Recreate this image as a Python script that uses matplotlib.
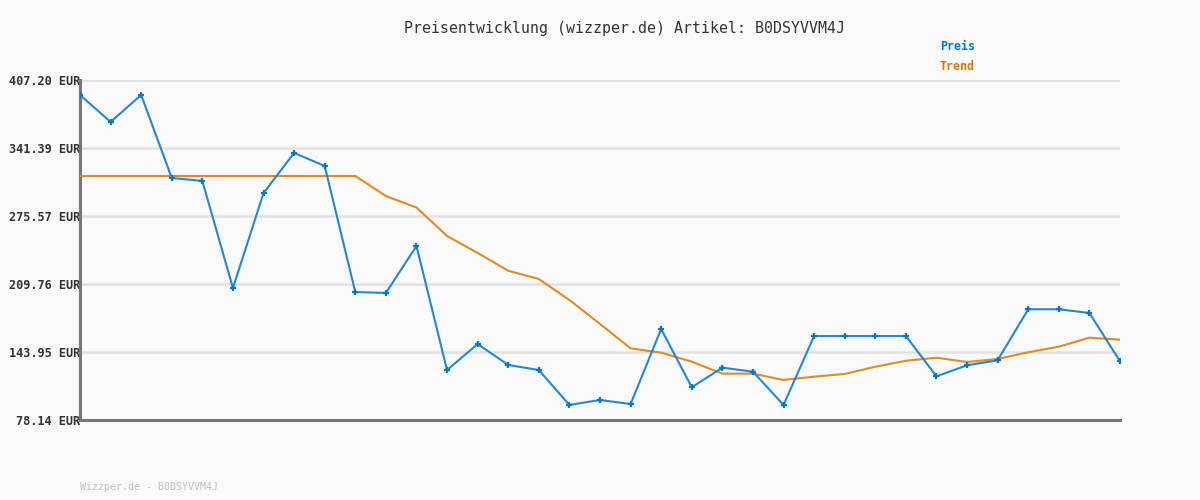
import matplotlib.pyplot as plt
import numpy as np

# Preis (blue) and Trend (orange), one value per sampling point
preis = [392.7, 366.6, 392.7, 312.4, 309.5, 205.9, 297.8, 336.6, 324.0, 202.0,
         201.1, 246.5, 126.5, 151.7, 131.4, 126.5, 92.7, 97.5, 93.6, 166.2,
         109.8, 128.8, 124.9, 92.7, 159.4, 159.4, 159.4, 159.4, 120.4, 131.1,
         135.9, 185.3, 185.3, 181.7, 135.0]
trend = [314.3, 314.3, 314.3, 314.3, 314.3, 314.3, 314.3, 314.3, 314.3, 314.3,
         294.9, 283.8, 256.2, 239.8, 222.6, 214.6, 194.3, 171.1, 147.5, 143.3,
         134.6, 123.0, 123.0, 116.9, 120.1, 122.7, 129.7, 135.5, 138.4, 134.3,
         137.2, 143.7, 149.1, 157.8, 155.9]
yticks = [78.14, 143.95, 209.76, 275.57, 341.39, 407.20]

title = "Preisentwicklung (wizzper.de) Artikel: B0DSYVVM4J"
footer = "Wizzper.de - B0DSYVVM4J"

bg = "#fafafa"
blue = "#0077cc"
blue_line = "#2288d6"
orange = "#dd7700"
orange_line = "#e38a22"

plt.rcParams["font.family"] = ["DejaVu Sans Mono"]

fig = plt.figure(figsize=(12, 5), dpi=100, facecolor=bg)
ax = fig.add_axes([80 / 1200, 80 / 500, 1040 / 1200, 340 / 500], facecolor=bg)

x = np.arange(len(preis))

# gridlines at each tick
for yv in yticks:
    ax.axhline(yv, color="#e2e2e2", lw=1.8, zorder=1)

ax.plot(x, trend, color=orange_line, lw=1.5, zorder=3)
ax.plot(x, preis, color=blue_line, lw=1.5, zorder=4)
ax.plot(x, preis, ls="none", marker="+", ms=5, mew=1.6, color=blue, zorder=5)

ax.set_xlim(0, len(preis) - 1)
ax.set_ylim(yticks[0], yticks[-1])
ax.set_xticks([])
ax.set_yticks(yticks)
ax.set_yticklabels(["%.2f EUR" % v for v in yticks], fontsize=8.6,
                   fontweight="bold", color="#333333")
ax.tick_params(axis="y", length=0, pad=0)

for s in ["top", "right"]:
    ax.spines[s].set_visible(False)
for s in ["left", "bottom"]:
    ax.spines[s].set_color("#777777")
    ax.spines[s].set_linewidth(2.2)

fig.text(624 / 1200, 1 - 28 / 500, title, ha="center", va="center",
         fontsize=10.7, color="#333333")
fig.text(940 / 1200, 1 - 47 / 500, "Preis", ha="left", va="center",
         fontsize=8.4, fontweight="bold", color=blue)
fig.text(940 / 1200, 1 - 67 / 500, "Trend", ha="left", va="center",
         fontsize=8.4, fontweight="bold", color=orange)
fig.text(80 / 1200, 1 - 487 / 500, footer, ha="left", va="center",
         fontsize=7.2, color="#c0c0c0")

fig.savefig("out.png", dpi=100, facecolor=bg)
